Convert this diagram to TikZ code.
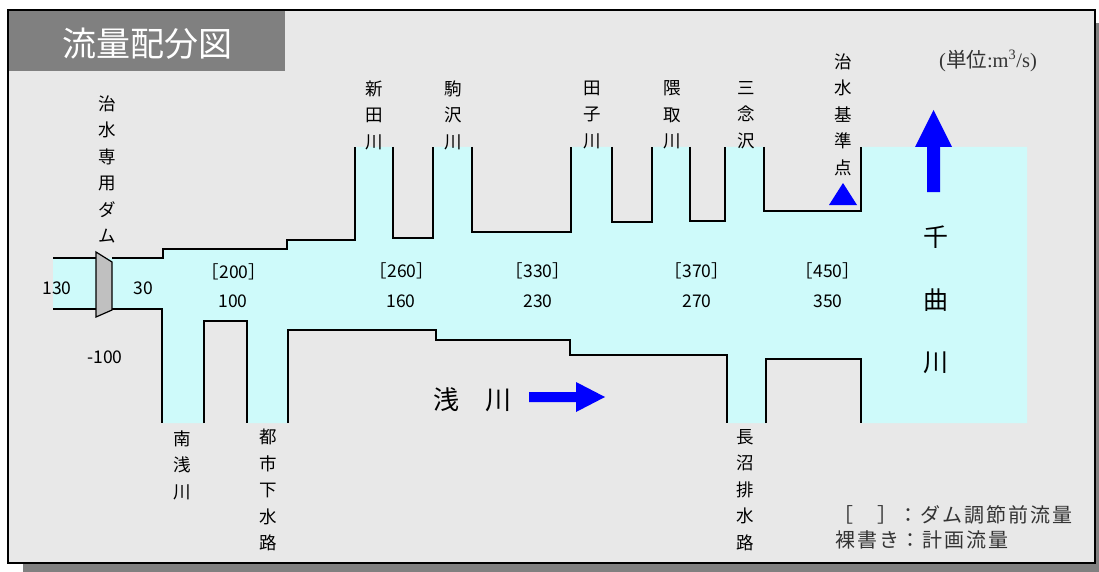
\documentclass[tikz,border=0pt]{standalone}
\usepackage{fontspec}
\setmainfont{Noto Sans CJK JP}
\newfontfamily\romanfont{Liberation Serif}
\usetikzlibrary{positioning}
\definecolor{suimen}{RGB}{206,250,250}
\definecolor{haikei}{RGB}{232,232,232}
\definecolor{kage}{RGB}{128,128,128}
\definecolor{damu}{RGB}{192,192,192}

\begin{document}
\begin{tikzpicture}[x=1pt, y=-1pt,
    kabe/.style={line width=1.5pt, line join=miter},
    tate/.style={align=center, inner sep=0pt, font=\fontsize{17.5}{26.5}\selectfont},
    ryoryo/.style={inner sep=0pt, font=\fontsize{17.5}{20}\selectfont},
    hanrei/.style={inner sep=0pt, text=black!80,
                   font=\fontsize{20}{24}\selectfont\addfontfeature{LetterSpace=10}},
    yajirushi/.style={fill=blue}
  ]
    \useasboundingbox (0,0) rectangle (1099,572);
    \fill[white] (0,0) rectangle (1099,572);
    \fill[kage] (23,23) rectangle (1099,572);
    \fill[haikei] (8,10) rectangle (1095,563);
    \fill[kage] (8,10) rectangle (285,71);
    \draw[line width=2pt] (8,10) rectangle (1095,563);
    \node[white, font=\fontsize{34}{40}\selectfont] (daimei) at (147,44) {流量配分図};

    % water surface
    \fill[suimen] (53,258) -- (163,258) -- (163,249) -- (287,249) -- (287,240)
      -- (355,240) -- (355,147) -- (393,147) -- (393,238) -- (433,238) -- (433,147)
      -- (472,147) -- (472,232) -- (571,232) -- (571,147) -- (612,147) -- (612,222)
      -- (652,222) -- (652,147) -- (690,147) -- (690,221) -- (725,221) -- (725,147)
      -- (764,147) -- (764,211) -- (861,211) -- (861,147) -- (1027,147) -- (1027,423)
      -- (861,423) -- (861,359) -- (766,359) -- (766,423) -- (727,423) -- (727,355)
      -- (570,355) -- (570,340) -- (436,340) -- (436,330) -- (288,330) -- (288,423)
      -- (247,423) -- (247,321) -- (204,321) -- (204,423) -- (162,423) -- (162,309)
      -- (53,309) -- cycle;

    % banks
    \draw[kabe] (53,258) -- (96,258);
    \draw[kabe] (112,258) -- (163,258) -- (163,249) -- (287,249) -- (287,240)
      -- (355,240) -- (355,147);
    \draw[kabe] (393,147) -- (393,238) -- (433,238) -- (433,147);
    \draw[kabe] (472,147) -- (472,232) -- (571,232) -- (571,147);
    \draw[kabe] (612,147) -- (612,222) -- (652,222) -- (652,147);
    \draw[kabe] (690,147) -- (690,221) -- (725,221) -- (725,147);
    \draw[kabe] (764,147) -- (764,211) -- (861,211) -- (861,147);
    \draw[kabe] (53,309) -- (96,309);
    \draw[kabe] (112,309) -- (162,309) -- (162,423);
    \draw[kabe] (204,423) -- (204,321) -- (247,321) -- (247,423);
    \draw[kabe] (288,423) -- (288,330) -- (436,330) -- (436,340) -- (570,340)
      -- (570,355) -- (727,355) -- (727,423);
    \draw[kabe] (766,423) -- (766,359) -- (861,359) -- (861,423);

    % dam
    \draw[fill=damu, line width=1.2pt] (96,252) -- (112,262) -- (112,310) -- (96,317) -- cycle;

    % river names
    \node[tate] (damumei)  at (107,169.5) {治\\水\\専\\用\\ダ\\ム};
    \node[tate] (shinden)  at (374,115) {新\\田\\川};
    \node[tate] (komazawa) at (453,115) {駒\\沢\\川};
    \node[tate] (tago)     at (592,115) {田\\子\\川};
    \node[tate] (kumatori) at (672,115) {隈\\取\\川};
    \node[tate] (sannen)   at (746,115) {三\\念\\沢};
    \node[tate] (kijun)    at (843,114.5) {治\\水\\基\\準\\点};
    \node[tate] (minami)   at (182,465) {南\\浅\\川};
    \node[tate] (toshi)    at (268,490) {都\\市\\下\\水\\路};
    \node[tate] (naganuma) at (745,490) {長\\沼\\排\\水\\路};
    \node[tate, font=\fontsize{25}{62.5}\selectfont] (chikuma) at (936,300) {千\\曲\\川};
    \node[inner sep=0pt, font=\fontsize{26}{30}\selectfont] (asakawa) at (472,400) {浅　川};

    % reference point and arrows
    \fill[blue] (843,183) -- (857,205) -- (829,205) -- cycle;
    \fill[yajirushi] (927,192) -- (927,147) -- (915,147) -- (933.5,110) -- (952,147)
      -- (940,147) -- (940,192) -- cycle;
    \fill[yajirushi] (529,392) -- (576,392) -- (576,382) -- (605,397) -- (576,412)
      -- (576,402) -- (529,402) -- cycle;

    % discharges
    \node[ryoryo] (q0)  at (57,288)  {130};
    \node[ryoryo] (q1)  at (143,288) {30};
    \node[ryoryo] (q2)  at (105,357) {-100};
    \node[ryoryo] (m1)  at (234,272) {［200］};
    \node[ryoryo] (k1)  at (233,301) {100};
    \node[ryoryo] (m2)  at (402,271) {［260］};
    \node[ryoryo] (k2)  at (401,301) {160};
    \node[ryoryo] (m3)  at (538,271) {［330］};
    \node[ryoryo] (k3)  at (538,301) {230};
    \node[ryoryo] (m4)  at (697,271) {［370］};
    \node[ryoryo] (k4)  at (697,301) {270};
    \node[ryoryo] (m5)  at (828,271) {［450］};
    \node[ryoryo] (k5)  at (828,301) {350};

    % unit and legend
    \node[inner sep=0pt, text=black!80, font=\fontsize{20.5}{24}\selectfont] (tani) at (988,61)
      {{\romanfont(}単位{\romanfont:m\textsuperscript{3}/s)}};
    \node[hanrei, anchor=east] (hanrei1a) at (898,515) {［　］};
    \node[hanrei, anchor=west] (hanrei1b) at (898,515) {：ダム調節前流量};
    \node[hanrei, anchor=east] (hanrei2a) at (900,540) {裸書き};
    \node[hanrei, anchor=west] (hanrei2b) at (900,540) {：計画流量};
  \end{tikzpicture}
\end{document}
